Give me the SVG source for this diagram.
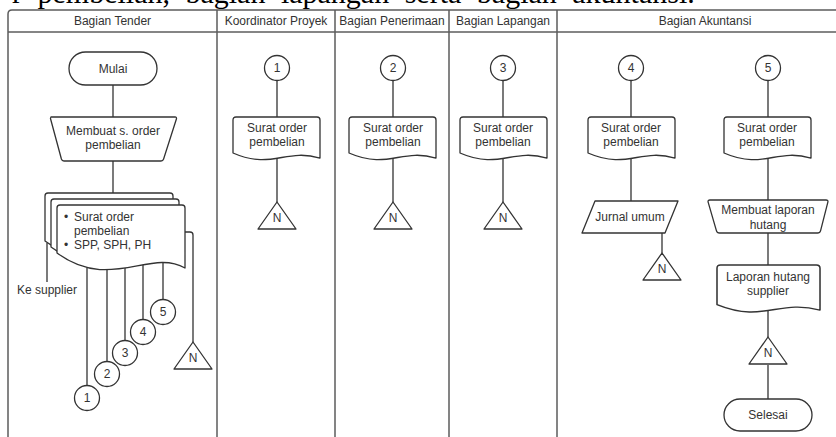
<svg xmlns="http://www.w3.org/2000/svg" width="836" height="437" viewBox="0 0 836 437">
  <style>
    .lane { fill: none; stroke: #5c5c5c; stroke-width: 1.5; }
    .shape { fill: #ffffff; stroke: #333333; stroke-width: 1.3; stroke-linejoin: round; }
    .conn { fill: none; stroke: #333333; stroke-width: 1.3; }
    .t { font-family: "Liberation Sans", Arial, sans-serif; font-size: 12px; fill: #333333; text-anchor: middle; }
    .tl { font-family: "Liberation Sans", Arial, sans-serif; font-size: 12px; fill: #333333; }
    .body { font-family: "Liberation Serif", "Times New Roman", serif; font-size: 30px; fill: #000000; word-spacing: 8px; }
  </style>
  <defs>
    <!-- document symbol, origin at top-left, 87 wide, wave bottom near y=43 -->
    <path id="doc" d="M0,3 Q0,0 3,0 H84 Q87,0 87,3 V41 C52,31 39,53 0,36 Z"/>
    <!-- stacked document sheet, front sheet position -->
    <path id="sheet" d="M57,208 Q57,205 60,205 H182 Q185,205 185,208 V268 C150,248 110,292 57,253 Z"/>
    <!-- off-page connector -->
    <path id="tri" d="M0,0 L19,27 H-19 Z"/>
  </defs>

  <rect width="836" height="437" fill="#ffffff"/>

  <!-- running text of the page above the chart -->
  <text class="body" x="12" y="3">r pembelian, bagian lapangan serta bagian akuntansi.</text>

  <!-- swimlane frame -->
  <g id="lanes">
    <path class="lane" d="M8,437 V14 Q8,10 12,10 H850"/>
    <path class="lane" d="M8,32 H850"/>
    <path class="lane" d="M217,10 V437 M335,10 V437 M449,10 V437 M557,10 V437"/>
    <text class="t" x="112.5" y="25">Bagian Tender</text>
    <text class="t" x="276" y="25">Koordinator Proyek</text>
    <text class="t" x="392" y="25">Bagian Penerimaan</text>
    <text class="t" x="503" y="25">Bagian Lapangan</text>
    <text class="t" x="705" y="25">Bagian Akuntansi</text>
  </g>

  <!-- connectors -->
  <g id="connectors">
    <path class="conn" d="M113,85 V117"/>
    <path class="conn" d="M113,161 V193"/>
    <path class="conn" d="M47,243 V282"/>
    <path class="conn" d="M87,268 V385.5"/>
    <path class="conn" d="M107,268 V361.5"/>
    <path class="conn" d="M125,266 V340.5"/>
    <path class="conn" d="M143,262 V319.5"/>
    <path class="conn" d="M163,262 V299.5"/>
    <path class="conn" d="M185,232 H190 Q193,232 193,235 V342"/>

    <path class="conn" d="M277,80.5 V117 M277,158 V202"/>
    <path class="conn" d="M393,80.5 V117 M393,158 V202"/>
    <path class="conn" d="M503,80.5 V117 M503,158 V202"/>

    <path class="conn" d="M631,80.5 V117 M631,159 V201"/>
    <path class="conn" d="M662,233 V253"/>
    <path class="conn" d="M768,80.5 V117 M768,158 V200"/>
    <path class="conn" d="M768,233 V265"/>
    <path class="conn" d="M768,310 V337"/>
    <path class="conn" d="M768,365 V399"/>
  </g>

  <!-- Bagian Tender -->
  <g id="mulai">
    <rect class="shape" x="69" y="52" width="88" height="33" rx="16.5"/>
    <text class="t" x="113" y="72.5">Mulai</text>
  </g>
  <g id="membuat-order">
    <path class="shape" d="M51,117 H175 Q177,117 176.4,119 L163.6,159 Q163,161 161,161 H64 Q62,161 61.4,159 L50.6,119 Q50,117 52,117 Z"/>
    <text class="t" x="113" y="135">Membuat s. order</text>
    <text class="t" x="113" y="149">pembelian</text>
  </g>
  <g id="dokumen-order">
    <use href="#sheet" class="shape" transform="translate(-12,-12)"/>
    <use href="#sheet" class="shape" transform="translate(-6,-6)"/>
    <use href="#sheet" class="shape"/>
    <text class="tl" x="64" y="221">•</text>
    <text class="tl" x="74" y="221">Surat order</text>
    <text class="tl" x="74" y="235">pembelian</text>
    <text class="tl" x="64" y="249">•</text>
    <text class="tl" x="74" y="249">SPP, SPH, PH</text>
  </g>
  <g id="ke-supplier">
    <text class="t" x="47" y="294">Ke supplier</text>
  </g>
  <g id="konektor-t1">
    <circle class="shape" cx="87" cy="398" r="12.5"/>
    <text class="t" x="87" y="402">1</text>
  </g>
  <g id="konektor-t2">
    <circle class="shape" cx="107" cy="374" r="12.5"/>
    <text class="t" x="107" y="378">2</text>
  </g>
  <g id="konektor-t3">
    <circle class="shape" cx="125" cy="353" r="12.5"/>
    <text class="t" x="125" y="357">3</text>
  </g>
  <g id="konektor-t4">
    <circle class="shape" cx="143" cy="332" r="12.5"/>
    <text class="t" x="143" y="336">4</text>
  </g>
  <g id="konektor-t5">
    <circle class="shape" cx="163" cy="312" r="12.5"/>
    <text class="t" x="163" y="316">5</text>
  </g>
  <g id="arsip-tender">
    <use href="#tri" class="shape" transform="translate(193,342)"/>
    <text class="t" x="193" y="362">N</text>
  </g>

  <!-- Koordinator Proyek -->
  <g id="konektor-k1">
    <circle class="shape" cx="277" cy="68" r="12.5"/>
    <text class="t" x="277" y="72">1</text>
  </g>
  <g id="order-koordinator">
    <use href="#doc" class="shape" transform="translate(233,117)"/>
    <text class="t" x="277" y="132">Surat order</text>
    <text class="t" x="277" y="146">pembelian</text>
  </g>
  <g id="arsip-koordinator">
    <use href="#tri" class="shape" transform="translate(277,202)"/>
    <text class="t" x="277" y="222">N</text>
  </g>

  <!-- Bagian Penerimaan -->
  <g id="konektor-p2">
    <circle class="shape" cx="393" cy="68" r="12.5"/>
    <text class="t" x="393" y="72">2</text>
  </g>
  <g id="order-penerimaan">
    <use href="#doc" class="shape" transform="translate(349,117)"/>
    <text class="t" x="393" y="132">Surat order</text>
    <text class="t" x="393" y="146">pembelian</text>
  </g>
  <g id="arsip-penerimaan">
    <use href="#tri" class="shape" transform="translate(393,202)"/>
    <text class="t" x="393" y="222">N</text>
  </g>

  <!-- Bagian Lapangan -->
  <g id="konektor-l3">
    <circle class="shape" cx="503" cy="68" r="12.5"/>
    <text class="t" x="503" y="72">3</text>
  </g>
  <g id="order-lapangan">
    <use href="#doc" class="shape" transform="translate(460,117)"/>
    <text class="t" x="503" y="132">Surat order</text>
    <text class="t" x="503" y="146">pembelian</text>
  </g>
  <g id="arsip-lapangan">
    <use href="#tri" class="shape" transform="translate(503,202)"/>
    <text class="t" x="503" y="222">N</text>
  </g>

  <!-- Bagian Akuntansi -->
  <g id="konektor-a4">
    <circle class="shape" cx="631" cy="68" r="12.5"/>
    <text class="t" x="631" y="72">4</text>
  </g>
  <g id="order-akuntansi-1">
    <use href="#doc" class="shape" transform="translate(588,117)"/>
    <text class="t" x="631" y="132">Surat order</text>
    <text class="t" x="631" y="146">pembelian</text>
  </g>
  <g id="jurnal-umum">
    <path class="shape" d="M595,201 H678 L665,233 H582 Z"/>
    <text class="t" x="630" y="221">Jurnal umum</text>
  </g>
  <g id="arsip-jurnal">
    <use href="#tri" class="shape" transform="translate(662,253)"/>
    <text class="t" x="662" y="273">N</text>
  </g>
  <g id="konektor-a5">
    <circle class="shape" cx="768" cy="68" r="12.5"/>
    <text class="t" x="768" y="72">5</text>
  </g>
  <g id="order-akuntansi-2">
    <use href="#doc" class="shape" transform="translate(724,117)"/>
    <text class="t" x="767" y="132">Surat order</text>
    <text class="t" x="767" y="146">pembelian</text>
  </g>
  <g id="membuat-laporan">
    <path class="shape" d="M710,200 H826 Q828.5,200 827.8,202.4 L820.6,230.6 Q820,233 817.5,233 H719.5 Q717,233 716.4,230.6 L708.2,202.4 Q707.5,200 710,200 Z"/>
    <text class="t" x="768" y="214">Membuat laporan</text>
    <text class="t" x="768" y="229">hutang</text>
  </g>
  <g id="laporan-hutang">
    <use href="#doc" class="shape" transform="translate(717,265) scale(1.184,1.1)"/>
    <text class="t" x="768" y="281">Laporan hutang</text>
    <text class="t" x="768" y="295">supplier</text>
  </g>
  <g id="arsip-akuntansi">
    <use href="#tri" class="shape" transform="translate(768,337)"/>
    <text class="t" x="768" y="357">N</text>
  </g>
  <g id="selesai">
    <rect class="shape" x="724" y="399" width="88" height="32" rx="16"/>
    <text class="t" x="768" y="419">Selesai</text>
  </g>
</svg>
